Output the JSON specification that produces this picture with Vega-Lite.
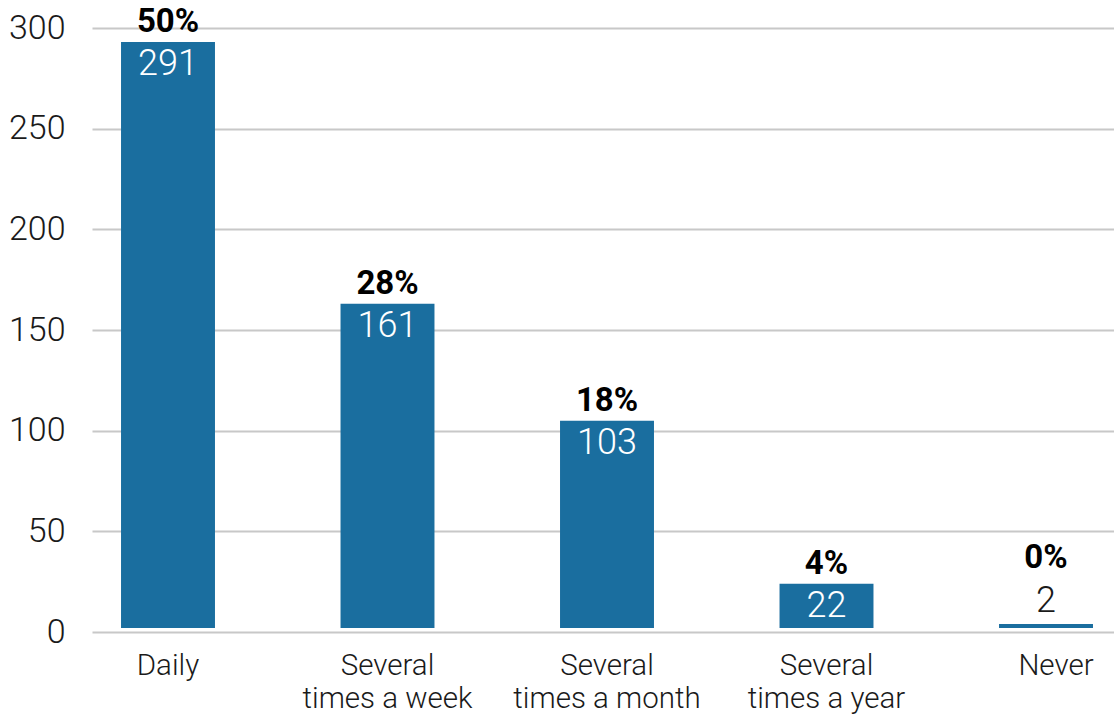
{
  "$schema": "https://vega.github.io/schema/vega-lite/v6.json",
  "width": 1022,
  "height": 604,
  "autosize": {"type": "none"},
  "padding": {"left": 92, "top": 28, "right": 0, "bottom": 87},
  "background": "white",
  "config": {"view": {"stroke": null}, "font": "Roboto"},
  "data": {
    "values": [
      {"freq": "Daily", "count": 291, "pct": "50%"},
      {"freq": "Several\ntimes a week", "count": 161, "pct": "28%"},
      {"freq": "Several\ntimes a month", "count": 103, "pct": "18%"},
      {"freq": "Several\ntimes a year", "count": 22, "pct": "4%"},
      {"freq": "Never", "count": 2, "pct": "0%"}
    ]
  },
  "encoding": {
    "x": {
      "field": "freq",
      "type": "nominal",
      "sort": null,
      "scale": {"paddingInner": 0.572, "paddingOuter": 0.114, "align": 0.58},
      "axis": {
        "title": null,
        "labelAngle": 0,
        "labelExpr": "split(datum.label, '\\n')",
        "labelFont": "Roboto",
        "labelFontWeight": 300,
        "labelFontSize": 29.5,
        "labelLineHeight": 33,
        "labelLimit": 400,
        "labelColor": "#1a1a1a",
        "labelPadding": 19,
        "labelOffset": {"condition": {"test": "datum.value === 'Never'", "value": 10}, "value": 0},
        "ticks": false,
        "domain": false
      }
    },
    "y": {
      "field": "count",
      "type": "quantitative",
      "scale": {"domain": [0, 300], "nice": false},
      "axis": {
        "title": null,
        "values": [0, 50, 100, 150, 200, 250, 300],
        "grid": true,
        "gridColor": "#c8c8c8",
        "gridWidth": 2,
        "domain": false,
        "ticks": false,
        "labelFont": "Roboto",
        "labelFontWeight": 300,
        "labelFontSize": 34,
        "labelColor": "#1a1a1a",
        "labelPadding": 27
      }
    }
  },
  "layer": [
    {
      "mark": {"type": "bar", "color": "#1a6e9f", "yOffset": -4, "y2Offset": -5}
    },
    {
      "transform": [{"filter": "datum.count >= 10"}],
      "mark": {"type": "text", "color": "white", "baseline": "alphabetic", "dy": 29, "fontSize": 36, "fontWeight": 300},
      "encoding": {"text": {"field": "count", "type": "quantitative"}}
    },
    {
      "transform": [{"filter": "datum.count >= 10"}],
      "mark": {"type": "text", "color": "black", "baseline": "alphabetic", "dy": -14, "fontSize": 33, "fontWeight": "bold"},
      "encoding": {"text": {"field": "pct", "type": "nominal"}}
    },
    {
      "transform": [{"filter": "datum.count < 10"}],
      "mark": {"type": "text", "color": "#1a1a1a", "baseline": "alphabetic", "dy": -16, "fontSize": 36, "fontWeight": 300},
      "encoding": {"text": {"field": "count", "type": "quantitative"}}
    },
    {
      "transform": [{"filter": "datum.count < 10"}],
      "mark": {"type": "text", "color": "black", "baseline": "alphabetic", "dy": -60, "fontSize": 33, "fontWeight": "bold"},
      "encoding": {"text": {"field": "pct", "type": "nominal"}}
    }
  ]
}
